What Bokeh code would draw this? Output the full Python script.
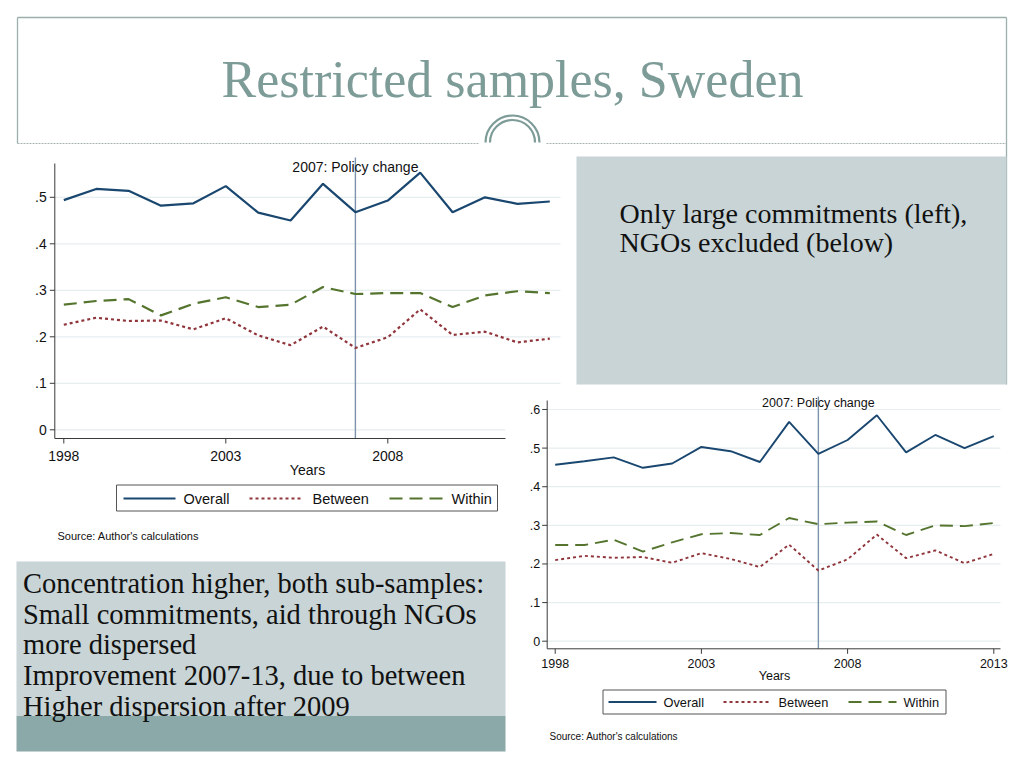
import math
from bokeh.plotting import figure
from bokeh.models import Range1d
from bokeh.core.properties import value
from bokeh.embed import file_html
from bokeh.resources import INLINE

# ---------------- data ----------------
years = list(range(1998, 2014))

# Left chart: only large commitments
large_overall = [0.494, 0.518, 0.514, 0.482, 0.487, 0.524, 0.467, 0.450,
                 0.529, 0.468, 0.493, 0.553, 0.468, 0.500, 0.486, 0.491]
large_between = [0.226, 0.241, 0.234, 0.235, 0.216, 0.240, 0.203, 0.182,
                 0.222, 0.176, 0.199, 0.259, 0.204, 0.211, 0.188, 0.196]
large_within = [0.269, 0.277, 0.281, 0.246, 0.271, 0.285, 0.264, 0.269,
                0.307, 0.292, 0.294, 0.294, 0.264, 0.289, 0.298, 0.294]

# Right chart: NGOs excluded
ngo_overall = [0.457, 0.466, 0.476, 0.449, 0.460, 0.503, 0.492, 0.464,
               0.568, 0.485, 0.521, 0.585, 0.489, 0.534, 0.500, 0.531]
ngo_between = [0.210, 0.221, 0.216, 0.218, 0.203, 0.228, 0.213, 0.192,
               0.250, 0.183, 0.212, 0.276, 0.215, 0.235, 0.202, 0.226]
ngo_within = [0.249, 0.249, 0.263, 0.232, 0.256, 0.277, 0.280, 0.275,
              0.319, 0.303, 0.307, 0.310, 0.275, 0.300, 0.298, 0.306]

series_names = ["Overall", "Between", "Within"]
y_ticks_left = [0, 0.1, 0.2, 0.3, 0.4, 0.5]
y_labels_left = ["0", ".1", ".2", ".3", ".4", ".5"]
y_ticks_right = [0, 0.1, 0.2, 0.3, 0.4, 0.5, 0.6]
y_labels_right = ["0", ".1", ".2", ".3", ".4", ".5", ".6"]
x_ticks = [1998, 2003, 2008, 2013]
x_labels = ["1998", "2003", "2008", "2013"]
policy_year = 2007
policy_label = "2007: Policy change"
axis_title = "Years"
source_text = "Source: Author's calculations"

title_text = "Restricted samples, Sweden"
box_right_lines = ["Only large commitments (left),", "NGOs excluded (below)"]
box_left_lines = ["Concentration higher, both sub-samples:",
                  "Small commitments, aid through NGOs",
                  "more dispersed",
                  "Improvement 2007-13, due to between",
                  "Higher dispersion after 2009"]

# ---------------- styles ----------------
COLORS = ["#1a476f", "#90353b", "#55752f"]
DASHES = ["solid", "3 3", "13 7"]
GRID = "#e6eeef"
AXIS = "#3a3a3a"
POLICY = "#7d93ab"
TEAL = "#7d9b97"
BOX_LIGHT = "#c8d4d6"
BOX_DARK = "#8ba9a8"
SANS = "Liberation Sans"
SERIF = "Liberation Serif"

PX0, PY0 = 0, 0
W, H = 1008, 752

p = figure(width=W, height=H,
           x_range=Range1d(PX0, PX0 + W), y_range=Range1d(PY0 + H, PY0),
           output_backend="svg", toolbar_location=None, min_border=0,
           x_axis_location=None, y_axis_location=None)
p.grid.visible = False
p.outline_line_color = None
p.background_fill_color = "white"
p.border_fill_color = "white"


def ctext(x, y, t, size, font=SANS, color="#111111", align="left",
          baseline="middle", **kw):
    p.text(x=[x], y=[y], text=[t], text_font=value(font),
           text_font_size=size, text_color=color, text_align=align,
           text_baseline=baseline, **kw)


# ---------------- header ----------------
p.segment(x0=[17, 17, 1006], y0=[17, 17, 17], x1=[1006, 17, 1006],
          y1=[17, 143, 384], line_color="#9bb0ad", line_width=1.3)
p.segment(x0=[17, 546], y0=[143, 143], x1=[478, 1006], y1=[143, 143],
          line_color="#a6b4b3", line_width=1, line_dash="2 1")
p.arc(x=[512, 512], y=[142, 142], radius=[27, 22.5], start_angle=0,
      end_angle=math.pi, line_color=TEAL, line_width=2.2)
ctext(512, 79, title_text, "52px", font=SERIF, color=TEAL, align="center",
      baseline="middle")

# ---------------- right grey box ----------------
p.quad(left=[576], right=[1006], top=[156], bottom=[384],
       fill_color=BOX_LIGHT, line_color=None)
for i, t in enumerate(box_right_lines):
    ctext(619, 213 + i * 29, t, "28px", font=SERIF)


# ---------------- chart builder ----------------
def chart(name, cfg, series, yticks, ylabels):
    ppy, ppu = cfg["ppy"], cfg["ppu"]
    x0, y0 = cfg["x0"], cfg["y0"]
    p.extra_x_ranges[name] = Range1d(years[0] + (PX0 - x0) / ppy,
                                     years[0] + (PX0 + W - x0) / ppy)
    p.extra_y_ranges[name] = Range1d((y0 - PY0 - H) / ppu, (y0 - PY0) / ppu)
    kw = dict(x_range_name=name, y_range_name=name)
    xl = years[0] - (x0 - cfg["ax_left"]) / ppy
    xr = years[0] + (cfg["ax_right"] - x0) / ppy
    yb = -(cfg["ax_bottom"] - y0) / ppu
    yt = (y0 - cfg["ax_top"]) / ppu
    n = len(yticks)
    fs = cfg["fs"]
    # grid
    p.segment(x0=[xl] * n, y0=yticks, x1=[xr] * n, y1=yticks,
              line_color=GRID, line_width=1.2, **kw)
    # policy line
    ptop = (y0 - cfg["policy_top"]) / ppu
    p.segment(x0=[policy_year], y0=[yb], x1=[policy_year], y1=[ptop],
              line_color=POLICY, line_width=1.4, **kw)
    # series
    for vals, c, d in zip(series, COLORS, DASHES):
        p.line(x=years, y=vals, line_color=c, line_dash=d,
               line_width=cfg["lw"], **kw)
    # axes
    p.segment(x0=[xl, xl], y0=[yb, yb], x1=[xl, xr], y1=[yt, yb],
              line_color=AXIS, line_width=1, **kw)
    tl_x = 5 / ppy
    tl_y = 5 / ppu
    p.segment(x0=[xl] * n, y0=yticks, x1=[xl - tl_x] * n, y1=yticks,
              line_color=AXIS, line_width=1, **kw)
    p.text(x=[xl] * n, y=yticks, text=ylabels, x_offset=-cfg["ylab_gap"],
           text_align="right", text_baseline="middle",
           text_font=value(SANS), text_font_size=fs, text_color="#111111", **kw)
    m = len(x_ticks)
    p.segment(x0=x_ticks, y0=[yb] * m, x1=x_ticks, y1=[yb - tl_y] * m,
              line_color=AXIS, line_width=1, **kw)
    p.text(x=x_ticks, y=[yb] * m, text=x_labels, y_offset=cfg["xlab_off"],
           text_align="center", text_baseline="middle",
           text_font=value(SANS), text_font_size=fs, text_color="#111111", **kw)
    # policy label
    p.text(x=[policy_year], y=[(y0 - cfg["policy_lab"]) / ppu],
           text=[policy_label], text_align="center", text_baseline="middle",
           text_font=value(SANS), text_font_size=fs, text_color="#111111", **kw)


def legend(cfg):
    l, r, t, b = cfg["box"]
    p.quad(left=[l], right=[r], top=[t], bottom=[b], fill_color="white",
           line_color="#555555", line_width=1)
    yc = cfg["yc"]
    for (xa, xb), tx, nm, c, d in zip(cfg["lines"], cfg["tx"], series_names,
                                      COLORS, DASHES):
        p.segment(x0=[xa], y0=[yc], x1=[xb], y1=[yc], line_color=c,
                  line_dash=d, line_width=cfg["lw"])
        ctext(tx, yc, nm, cfg["fs"])


# ---------------- left chart ----------------
cfg1 = dict(x0=63.3, ppy=32.4, y0=429.3, ppu=465.0, ax_left=54.3,
            ax_right=560, ax_bottom=438, ax_top=163, policy_top=157,
            policy_lab=166, fs="14px", lw=2.2, ylab_gap=8, xlab_off=17)
chart("c1", cfg1, [large_overall, large_between, large_within],
      y_ticks_left, y_labels_left)
ctext(307, 469, axis_title, "14px", align="center")
legend(dict(box=(116, 497, 484.5, 510.5), yc=498,
            lines=[(123, 175), (249, 303), (389, 442)],
            tx=[183, 312, 451], fs="14.5px", lw=2.2))
ctext(57, 535.5, source_text, "11px")

# cover for the right chart panel
p.quad(left=[505], right=[1006], top=[388], bottom=[760],
       fill_color="white", line_color=None)

# ---------------- right chart ----------------
cfg2 = dict(x0=554.7, ppy=29.24, y0=640.7, ppu=386.2, ax_left=546.7,
            ax_right=1000, ax_bottom=648.3, ax_top=400, policy_top=396,
            policy_lab=402, fs="12.5px", lw=1.9, ylab_gap=7, xlab_off=15)
chart("c2", cfg2, [ngo_overall, ngo_between, ngo_within],
      y_ticks_right, y_labels_right)
ctext(774, 675.5, axis_title, "12.5px", align="center")
legend(dict(box=(602.5, 945.5, 689.5, 713.5), yc=701.5,
            lines=[(608, 656), (723, 770), (848, 896)],
            tx=[663, 778, 903], fs="12.8px", lw=1.9))
ctext(549, 735.5, source_text, "10px")

# ---------------- bottom-left text box ----------------
p.quad(left=[16], right=[505], top=[561], bottom=[715.5],
       fill_color=BOX_LIGHT, line_color=None)
p.quad(left=[16], right=[505], top=[715.5], bottom=[751],
       fill_color=BOX_DARK, line_color=None)
for i, t in enumerate(box_left_lines):
    ctext(22.5, 583 + i * 30.7, t, "28.5px", font=SERIF)

open("out.html", "w").write(file_html(p, INLINE))
